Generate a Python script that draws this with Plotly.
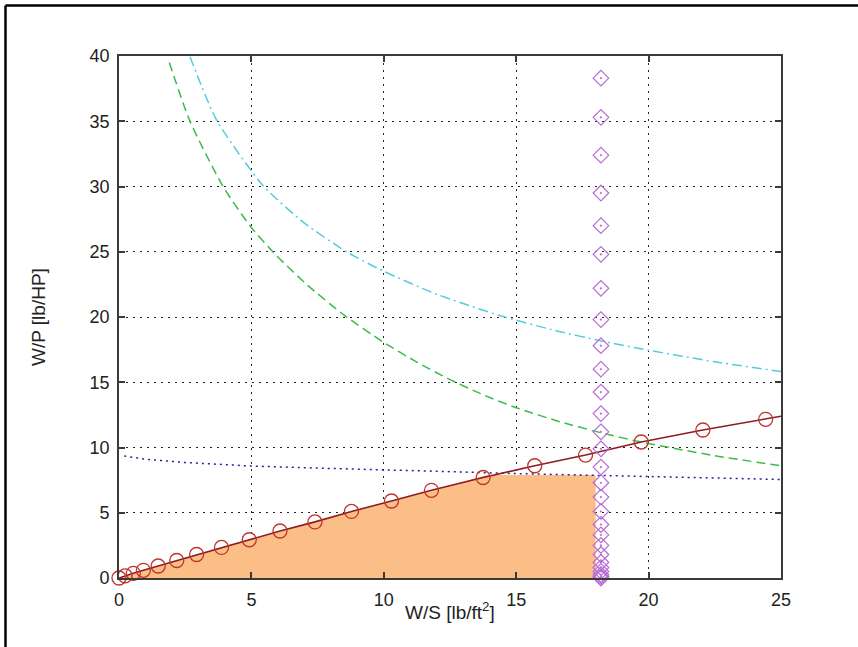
import plotly.graph_objects as go

# ---- data ----
ws_circ = [0, 0.23, 0.54, 0.92, 1.48, 2.18, 2.93, 3.87, 4.92, 6.08, 7.4, 8.78,
           10.29, 11.8, 13.75, 15.7, 17.62, 19.72, 22.05, 24.42]
wp_circ = [0, 0.17, 0.36, 0.59, 0.92, 1.34, 1.8, 2.34, 2.93, 3.6, 4.3, 5.1,
           5.9, 6.72, 7.7, 8.6, 9.42, 10.42, 11.34, 12.16]
ws_line_end = [25]
wp_line_end = [12.4]

ws_fill = [0, 0.23, 0.54, 0.92, 1.48, 2.18, 2.93, 3.87, 4.92, 6.08, 7.4, 8.78,
           10.29, 11.8, 13.9, 18.0, 18.0, 0]
wp_fill = [0, 0.17, 0.36, 0.59, 0.92, 1.34, 1.8, 2.34, 2.93, 3.6, 4.3, 5.1,
           5.9, 6.72, 7.9, 7.9, 0, 0]

ws_green = [1.9, 2.68, 3.93, 5.0, 5.95, 7.14, 8.5, 10.0, 11.2, 12.4, 13.8, 15.0,
            16.64, 18.2, 19.72, 22.5, 25.0]
wp_green = [39.5, 35.0, 30.0, 26.85, 24.7, 22.4, 20.15, 18.05, 16.6, 15.3, 14.0, 13.05,
            11.98, 11.13, 10.42, 9.37, 8.6]

ws_cyan = [2.68, 3.69, 5.45, 7.0, 8.59, 10.0, 12.0, 14.4, 16.5, 18.2, 20.0, 22.5, 25.0]
wp_cyan = [39.95, 35.07, 30.04, 27.2, 25.0, 23.5, 21.74, 20.1, 18.95, 18.17, 17.45, 16.57, 15.82]

ws_blue = [0.2, 1.0, 2.5, 5.0, 7.5, 10.0, 12.5, 15.0, 17.5, 20.0, 22.5, 25.0]
wp_blue = [9.35, 9.1, 8.85, 8.58, 8.42, 8.3, 8.15, 8.0, 7.88, 7.75, 7.65, 7.55]

ws_dia_value = 18.2
wp_dia = [0, 0.1, 0.25, 0.5, 0.8, 1.2, 1.8, 2.5, 3.3, 4.1, 5.1, 6.2, 7.3, 8.5,
          9.9, 11.2, 12.6, 14.25, 16.0, 17.8, 19.8, 22.2, 24.8, 27.0, 29.5,
          32.4, 35.3, 38.3]

x_ticks = [0, 5, 10, 15, 20, 25]
y_ticks = [0, 5, 10, 15, 20, 25, 30, 35, 40]
x_title = "W/S [lb/ft<sup>2</sup>]"
y_title = "W/P [lb/HP]"

FONT = "Liberation Sans, Arial, sans-serif"

fig = go.Figure()

fig.add_trace(go.Scatter(x=ws_fill, y=wp_fill, fill="toself", mode="none",
                         fillcolor="#FBBE86", hoverinfo="skip", showlegend=False))

fig.add_trace(go.Scatter(x=ws_blue, y=wp_blue, mode="lines",
                         line=dict(color="#23239A", width=1.5, dash="2px,4px"),
                         showlegend=False))

fig.add_trace(go.Scatter(x=ws_green, y=wp_green, mode="lines",
                         line=dict(color="#3DBB45", width=1.5, dash="9px,5px",
                                   shape="spline", smoothing=0.6),
                         showlegend=False))

fig.add_trace(go.Scatter(x=ws_cyan, y=wp_cyan, mode="lines",
                         line=dict(color="#55CCDD", width=1.5, dash="10px,4px,2px,4px",
                                   shape="spline", smoothing=0.6),
                         showlegend=False))

fig.add_trace(go.Scatter(x=ws_circ + ws_line_end, y=wp_circ + wp_line_end, mode="lines",
                         line=dict(color="#8E1C22", width=1.6),
                         showlegend=False))

fig.add_trace(go.Scatter(x=ws_circ, y=wp_circ, mode="markers",
                         marker=dict(symbol="circle-open", size=14, color="#BE332D",
                                     line=dict(color="#BE332D", width=1.3)),
                         cliponaxis=False, showlegend=False))

fig.add_trace(go.Scatter(x=[ws_dia_value] * len(wp_dia), y=wp_dia, mode="markers",
                         marker=dict(symbol="diamond-open-dot", size=12,
                                     color="#B86BD6",
                                     line=dict(color="#B86BD6", width=1.2)),
                         cliponaxis=False, showlegend=False))

axis_common = dict(
    showline=True, mirror="ticks", linecolor="#3a3a3a", linewidth=1.8,
    ticks="inside", ticklen=6, tickcolor="#3a3a3a", tickwidth=1.6,
    showgrid=True, gridcolor="#222222", gridwidth=1, griddash="2px,5px",
    zeroline=False, tickfont=dict(family=FONT, size=18, color="#222222"),
    ticklabelstandoff=4,
)

fig.update_xaxes(range=[0, 25], tickvals=x_ticks, **axis_common)
fig.update_yaxes(range=[0, 40], tickvals=y_ticks, **axis_common)

fig.update_layout(
    width=858, height=647,
    margin=dict(l=119, r=77, t=56, b=69, pad=0),
    paper_bgcolor="white", plot_bgcolor="white",
    annotations=[
        dict(text=x_title, xref="paper", yref="paper", x=0.5, y=0,
             xanchor="center", yanchor="top", yshift=-19, showarrow=False,
             font=dict(family=FONT, size=19, color="#222222")),
        dict(text=y_title, xref="paper", yref="paper", x=0, y=0.5,
             xanchor="center", yanchor="middle", xshift=-81, textangle=-90,
             showarrow=False, font=dict(family=FONT, size=19, color="#222222")),
    ],
    shapes=[
        dict(type="line", xref="paper", yref="paper",
             x0=(5.5 - 119) / 662, x1=(860 - 119) / 662,
             y0=(578 - 5.5) / 522, y1=(578 - 5.5) / 522,
             line=dict(color="black", width=2.5)),
        dict(type="line", xref="paper", yref="paper",
             x0=(5.5 - 119) / 662, x1=(5.5 - 119) / 662,
             y0=(578 - 5.5) / 522, y1=(578 - 650) / 522,
             line=dict(color="black", width=2.5)),
    ],
)

fig.write_html("out.html")
